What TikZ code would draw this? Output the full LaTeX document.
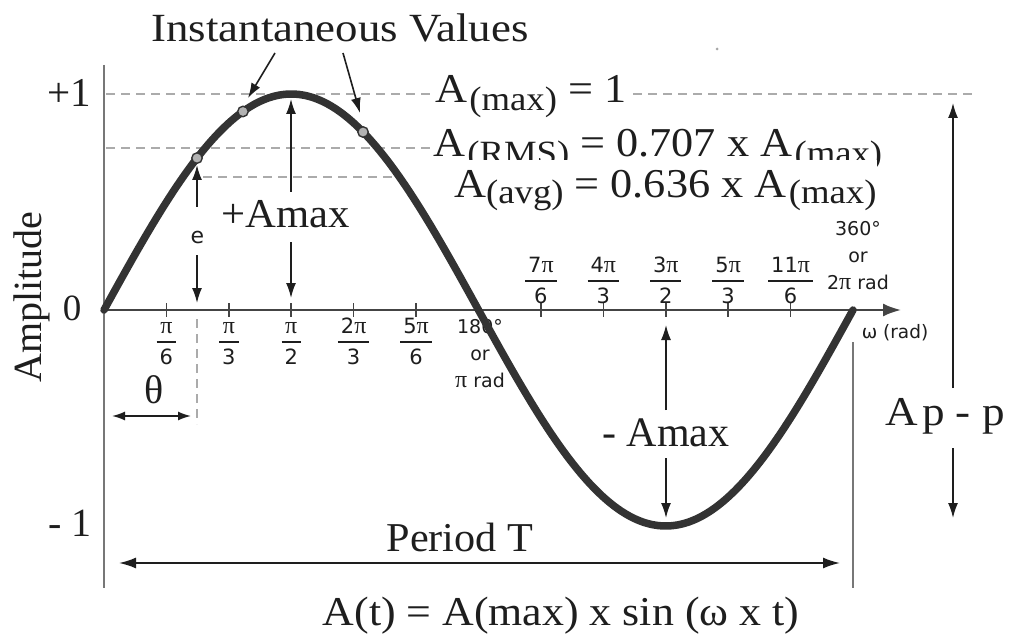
\documentclass[tikz,border=0pt]{standalone}
\usepackage{fontspec}
\usepackage{graphicx}
\setmainfont{Liberation Serif}
\newfontfamily\sansf{DejaVu Sans}
\newfontfamily\serg{Liberation Serif}
\usetikzlibrary{arrows.meta}
\definecolor{ink}{HTML}{1E1E1E}
\definecolor{curvec}{HTML}{333333}
\definecolor{axisc}{HTML}{444444}
\definecolor{dashc}{HTML}{ABABAB}
\definecolor{vline}{HTML}{777777}
\newcommand\sx[2]{\scalebox{#1}[1]{#2}}
\newcommand\fs[1]{\fontsize{#1}{#1}\selectfont}
\newcommand\pii{{\serg\fontsize{24}{24}\selectfont π}}
\newcommand\fr[2]{{\setlength\arrayrulewidth{1.8pt}\renewcommand\arraystretch{0}\begin{tabular}{@{\hspace{3pt}}c@{\hspace{3pt}}}\rule[-8pt]{0pt}{30pt}#1\\\hline\rule[-8pt]{0pt}{30pt}#2\end{tabular}}}
\begin{document}
\begin{tikzpicture}[x=1pt,y=-1pt,
  every node/.style={inner sep=0pt, text=ink},
  arr/.style={draw=ink, line width=1.6pt, -{Latex[length=15pt,width=10pt]}},
  darr/.style={draw=ink, line width=1.8pt, {Latex[length=17pt,width=11pt]}-{Latex[length=17pt,width=11pt]}},
  sdarr/.style={draw=ink, line width=1.6pt, {Latex[length=13pt,width=9pt]}-{Latex[length=13pt,width=9pt]}},
  guide/.style={draw=dashc, line width=1.5pt, dash pattern=on 9pt off 6pt},
  tickmark/.style={draw=axisc, line width=1.6pt},
  sanslbl/.style={font=\sansf\fontsize{19}{27}\selectfont, align=center},
  fraclbl/.style={font=\sansf\fontsize{21}{21}\selectfont},
  dot/.style={circle, minimum size=10.5pt, fill=gray!60, draw=curvec, line width=1.4pt}
]
\useasboundingbox (0,0) rectangle (1009,639);
\fill[white] (0,0) rectangle (1009,639);

% frame lines
\coordinate (O) at (104,310);
\coordinate (ytop) at (104,65);
\coordinate (ybot) at (104,588);
\coordinate (xend) at (901,310);
\coordinate (rtop) at (853,342);
\coordinate (rbot) at (853,588);
\draw[vline, line width=2pt] (ytop) -- (ybot);
\draw[vline, line width=1.8pt] (rtop) -- (rbot);

% dashed guides
\coordinate (g1a) at (106,94);  \coordinate (g1b) at (431,94);
\coordinate (g1c) at (633,94);  \coordinate (g1d) at (977,94);
\coordinate (g2a) at (106,148); \coordinate (g2b) at (431,148);
\coordinate (g3a) at (203,177); \coordinate (g3b) at (396,177);
\coordinate (g4a) at (197,319); \coordinate (g4b) at (197,424);
\draw[guide] (g1a) -- (g1b);
\draw[guide] (g1c) -- (g1d);
\draw[guide] (g2a) -- (g2b);
\draw[guide] (g3a) -- (g3b);
\draw[guide] (g4a) -- (g4b);

% ticks
\foreach \k in {1,2,3,4,5,7,8,9,10,11}{
  \draw[tickmark] ({104+62.4167*\k},303) -- ({104+62.4167*\k},317);
}
% horizontal axis
\draw[draw=axisc, line width=2.2pt, -{Latex[length=18pt,width=13pt]}] (O) -- (xend);

% tick labels
\node[fraclbl] (f1) at ({104+62.4167*1},342) {\fr{\pii}{6}};
\node[fraclbl] (f2) at ({104+62.4167*2},342) {\fr{\pii}{3}};
\node[fraclbl] (f3) at ({104+62.4167*3},342) {\fr{\pii}{2}};
\node[fraclbl] (f4) at ({104+62.4167*4},342) {\fr{2\pii}{3}};
\node[fraclbl] (f5) at ({104+62.4167*5},342) {\fr{5\pii}{6}};
\node[fraclbl] (f7) at ({104+62.4167*7},281) {\fr{7\pii}{6}};
\node[fraclbl] (f8) at ({104+62.4167*8},281) {\fr{4\pii}{3}};
\node[fraclbl] (f9) at ({104+62.4167*9},281) {\fr{3\pii}{2}};
\node[fraclbl] (f10) at ({104+62.4167*10},281) {\fr{5\pii}{3}};
\node[fraclbl] (f11) at ({104+62.4167*11},281) {\fr{11\pii}{6}};
\node[sanslbl] (l180) at (480,354) {180°\\or\\\pii\ rad};
\node[sanslbl] (l360) at (858,256) {360°\\or\\2\pii\ rad};
\node[font=\sansf\fontsize{18.5}{22}\selectfont] (wrad) at (895,333) {ω (rad)};

% sine curve
\draw[curvec, line width=7.5pt, line cap=round] plot[domain=0:360, samples=120, smooth] ({104+2.080556*\x},{310-216*sin(\x)});

% instantaneous points
\node[dot] (d1) at ({104+2.080556*44.7},{310-216*sin(44.7)}) {};
\node[dot] (d2) at ({104+2.080556*66.8},{310-216*sin(66.8)}) {};
\node[dot] (d3) at ({104+2.080556*124.5},{310-216*sin(124.5)}) {};

% texts
\node[anchor=base, font=\fs{40}] (title) at (340,42) {\sx{1.12}{Instantaneous Values}};
\node[anchor=base east, font=\fs{41}] (yp1) at (91,107) {+1};
\node[anchor=base, font=\fs{37}] (y0) at (72,320) {0};
\node[anchor=base east, font=\fs{40}] (ym1) at (92,536) {- 1};
\node[anchor=base, rotate=90, font=\fs{40}] (amp) at (41,297) {Amplitude};

\node[anchor=base west, font=\fs{41}] (amaxeq) at (435,103) {\sx{1.08}{A\kern2pt\raisebox{-8pt}{\fs{34}(max)} = 1}};
\node[anchor=base west, font=\fs{41}] (armseq) at (433,157) {\sx{1.08}{A\kern2pt\raisebox{-8pt}{\fs{34}(RMS)} = 0.707 x A\kern2pt\raisebox{-8pt}{\fs{34}(max)}}};
\node[anchor=base west, font=\fs{41}, fill=white, text height=37pt] (aavgeq) at (454,197) {\sx{1.08}{A\raisebox{-6pt}{\fs{34}(avg)} = 0.636 x A\kern2pt\raisebox{-6pt}{\fs{34}(max)}}};

\node[anchor=base, font=\fs{41}] (pamax) at (286,227) {\sx{1.04}{+Amax}};
\node[anchor=base, font=\fs{42}] (mamax) at (666,446) {- Amax};
\node[anchor=base, font=\fs{41}] (period) at (460,551) {\sx{1.03}{Period T}};
\node[anchor=base west, font=\fs{41}] (app) at (885,425) {\sx{1.1}{A\kern4pt p - p}};
\node[anchor=base, font=\fs{41}] (formula) at (561,625) {\sx{1.07}{A(t) = A(max) x sin (ω x t)}};
\node[font=\fs{40}] (theta) at (154,390) {θ};
\node[font=\sansf\fontsize{22}{22}\selectfont] (elbl) at (197.5,237) {e};

% arrows
\coordinate (i1s) at (275,53);  \coordinate (i1e) at (248,98);
\coordinate (i2s) at (343,53);  \coordinate (i2e) at (360,113);
\draw[arr] (i1s) -- (i1e);
\draw[arr] (i2s) -- (i2e);

\coordinate (eus) at (197,207); \coordinate (eue) at (197,165);
\coordinate (eds) at (197,255); \coordinate (ede) at (197,303);
\draw[arr] (eus) -- (eue);
\draw[arr] (eds) -- (ede);

\coordinate (pus) at (291,192); \coordinate (pue) at (291,99);
\coordinate (pds) at (291,242); \coordinate (pde) at (291,298);
\draw[arr] (pus) -- (pue);
\draw[arr] (pds) -- (pde);

\coordinate (mus) at (666,410); \coordinate (mue) at (666,325);
\coordinate (mds) at (666,458); \coordinate (mde) at (666,518);
\draw[arr] (mus) -- (mue);
\draw[arr] (mds) -- (mde);

\coordinate (aus) at (953,388); \coordinate (aue) at (953,103);
\coordinate (ads) at (953,448); \coordinate (ade) at (953,518);
\draw[arr] (aus) -- (aue);
\draw[arr] (ads) -- (ade);

\coordinate (tl) at (119,563); \coordinate (tr) at (840,563);
\draw[darr] (tl) -- (tr);
\coordinate (thl) at (112,416); \coordinate (thr) at (191,416);
\draw[sdarr] (thl) -- (thr);

% speck
\fill[gray!70] (717,49) circle (1.5);
\end{tikzpicture}
\end{document}
